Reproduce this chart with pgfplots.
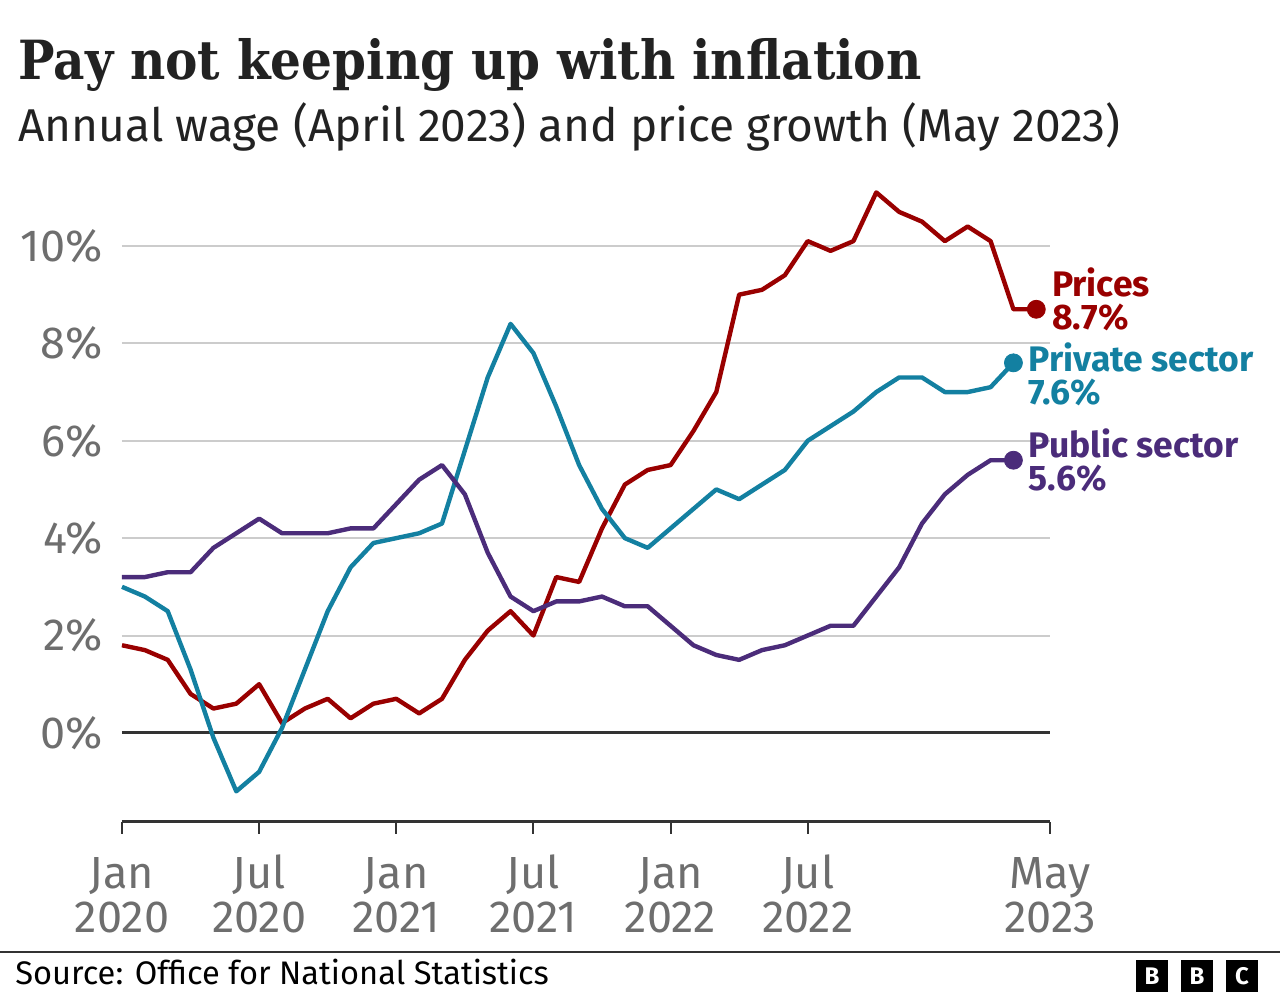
\documentclass[border=0pt]{standalone}
\usepackage{pgfplots}
\pgfplotsset{compat=1.18}
\usepackage{fontspec}
\setmainfont{Fira Sans}
\newfontfamily\titlefont{DejaVu Serif Condensed}
\definecolor{prices}{HTML}{990000}
\definecolor{private}{HTML}{1380A1}
\definecolor{public}{HTML}{4B2C7A}
\definecolor{ticklab}{HTML}{6E6E6E}
\definecolor{axisdark}{HTML}{333333}
\definecolor{gridgrey}{HTML}{CCCCCC}
\definecolor{textdark}{HTML}{222222}
\newcommand\tls{\rule{0pt}{18pt}}
\begin{document}
\begin{tikzpicture}[x=0.5pt,y=0.5pt]
\path[use as bounding box] (0,0) rectangle (1280,1000);
\node[anchor=base west, inner sep=0, text=textdark] at (18,920) {\titlefont\bfseries\fontsize{27}{32}\selectfont Pay not keeping up with inflation};
\node[anchor=base west, inner sep=0, text=textdark] at (18,858) {\fontsize{23}{27}\selectfont Annual wage (April 2023) and price growth (May 2023)};
\draw[axisdark, line width=1pt] (0,48) -- (1280,48);
\node[anchor=base west, inner sep=0, text=black] at (15,15) {\fontsize{16.3}{19}\selectfont Source: Office for National Statistics};
\foreach \xx/\ll in {1136/B,1181/B,1226/C}{
  \fill[black] (\xx,8) rectangle ++(32,32);
  \node[text=white, inner sep=0] at (\xx+16,24) {\bfseries\fontsize{12}{14}\selectfont \ll};
}
\begin{axis}[
  at={(61pt,89pt)}, anchor=south west, scale only axis,
  width=464pt, height=319.65pt,
  xmin=0, xmax=40.6, ymin=-1.83, ymax=11.3,
  clip=false,
  axis x line*=bottom, axis y line*=left,
  y axis line style={draw=none},
  x axis line style={-, axisdark, line width=1.5pt},
  tick align=outside, major tick length=6pt,
  xtick style={axisdark, line width=1pt},
  ytick style={draw=none},
  ytick={0,2,4,6,8,10},
  ymajorgrids, grid style={gridgrey, line width=1pt},
  /pgf/number format/assume math mode=true,
  yticklabel={\pgfmathprintnumber{\tick}\%},
  yticklabel style={anchor=east, inner sep=0pt, xshift=-3.5pt, text=ticklab, font=\fontsize{22.5}{22}\selectfont},
  xtick={0,6,12,18,24,30,40.6},
  xticklabels={\tls Jan\\2020,\tls Jul\\2020,\tls Jan\\2021,\tls Jul\\2021,\tls Jan\\2022,\tls Jul\\2022,\tls May\\2023},
  xticklabel style={align=center, anchor=north, inner sep=0pt, yshift=-9pt, text=ticklab, font=\fontsize{22.5}{22}\selectfont},
]
\draw[axisdark, line width=1.5pt] (axis cs:0,0) -- (axis cs:40.6,0);
\addplot[prices, line width=2.2pt, line join=round] coordinates {
(0,1.8) (1,1.7) (2,1.5) (3,0.8) (4,0.5) (5,0.6) (6,1.0) (7,0.2) (8,0.5) (9,0.7) (10,0.3) (11,0.6)
(12,0.7) (13,0.4) (14,0.7) (15,1.5) (16,2.1) (17,2.5) (18,2.0) (19,3.2) (20,3.1) (21,4.2) (22,5.1) (23,5.4)
(24,5.5) (25,6.2) (26,7.0) (27,9.0) (28,9.1) (29,9.4) (30,10.1) (31,9.9) (32,10.1) (33,11.1) (34,10.7) (35,10.5)
(36,10.1) (37,10.4) (38,10.1) (39,8.7) (40,8.7)};
\addplot[private, line width=2.2pt, line join=round] coordinates {
(0,3.0) (1,2.8) (2,2.5) (3,1.3) (4,-0.1) (5,-1.2) (6,-0.8) (7,0.1) (8,1.3) (9,2.5) (10,3.4) (11,3.9)
(12,4.0) (13,4.1) (14,4.3) (15,5.8) (16,7.3) (17,8.4) (18,7.8) (19,6.7) (20,5.5) (21,4.6) (22,4.0) (23,3.8)
(24,4.2) (25,4.6) (26,5.0) (27,4.8) (28,5.1) (29,5.4) (30,6.0) (31,6.3) (32,6.6) (33,7.0) (34,7.3) (35,7.3)
(36,7.0) (37,7.0) (38,7.1) (39,7.6)};
\addplot[public, line width=2.2pt, line join=round] coordinates {
(0,3.2) (1,3.2) (2,3.3) (3,3.3) (4,3.8) (5,4.1) (6,4.4) (7,4.1) (8,4.1) (9,4.1) (10,4.2) (11,4.2)
(12,4.7) (13,5.2) (14,5.5) (15,4.9) (16,3.7) (17,2.8) (18,2.5) (19,2.7) (20,2.7) (21,2.8) (22,2.6) (23,2.6)
(24,2.2) (25,1.8) (26,1.6) (27,1.5) (28,1.7) (29,1.8) (30,2.0) (31,2.2) (32,2.2) (33,2.8) (34,3.4) (35,4.3)
(36,4.9) (37,5.3) (38,5.6) (39,5.6)};
\addplot[only marks, mark=*, mark size=4.5pt, prices] coordinates {(40,8.7)};
\addplot[only marks, mark=*, mark size=4.5pt, private] coordinates {(39,7.6)};
\addplot[only marks, mark=*, mark size=4.5pt, public] coordinates {(39,5.6)};
\node[anchor=west, inner sep=0, align=left, text=prices, font=\bfseries\fontsize{17.75}{16.5}\selectfont] at (axis cs:40.67,8.91) {Prices\\8.7\%};
\node[anchor=west, inner sep=0, align=left, text=private, font=\bfseries\fontsize{17.75}{16.5}\selectfont] at (axis cs:39.66,7.36) {Private sector\\7.6\%};
\node[anchor=west, inner sep=0, align=left, text=public, font=\bfseries\fontsize{17.75}{16.5}\selectfont] at (axis cs:39.66,5.60) {Public sector\\5.6\%};
\end{axis}
\end{tikzpicture}
\end{document}
